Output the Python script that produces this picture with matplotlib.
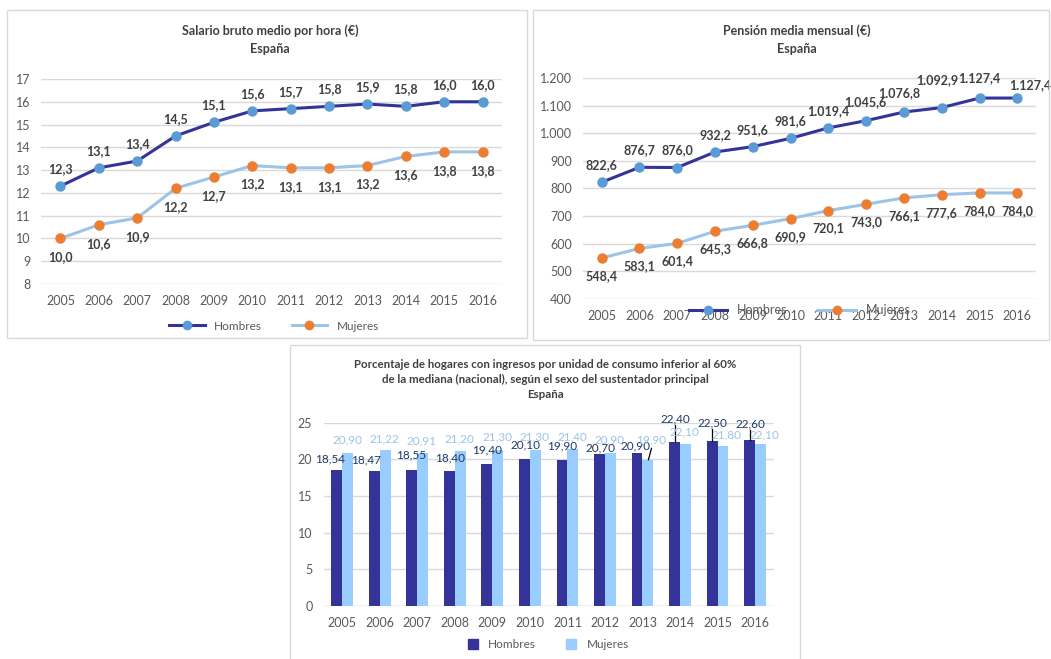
import matplotlib
matplotlib.use('Agg')
import matplotlib.pyplot as plt
from matplotlib.patches import Rectangle
from matplotlib.lines import Line2D
import numpy as np

plt.rcParams['font.family'] = ['Lato', 'DejaVu Sans']

# data
years = ['2005', '2006', '2007', '2008', '2009', '2010',
         '2011', '2012', '2013', '2014', '2015', '2016']
salario_h = [12.3, 13.1, 13.4, 14.5, 15.1, 15.6, 15.7, 15.8, 15.9, 15.8, 16.0, 16.0]
salario_m = [10.0, 10.6, 10.9, 12.2, 12.7, 13.2, 13.1, 13.1, 13.2, 13.6, 13.8, 13.8]
pension_h = [822.6, 876.7, 876.0, 932.2, 951.6, 981.6, 1019.4, 1045.6, 1076.8, 1092.9, 1127.4, 1127.4]
pension_m = [548.4, 583.1, 601.4, 645.3, 666.8, 690.9, 720.1, 743.0, 766.1, 777.6, 784.0, 784.0]
pobreza_h = [18.54, 18.47, 18.55, 18.40, 19.40, 20.10, 19.90, 20.70, 20.90, 22.40, 22.50, 22.60]
pobreza_m = [20.90, 21.22, 20.91, 21.20, 21.30, 21.30, 21.40, 20.90, 19.90, 22.10, 21.80, 22.10]

W, H = 1051, 659
H_LINE = '#333399'
H_MARK = '#5B9BD5'
M_LINE = '#9DC3E6'
M_MARK = '#ED7D31'
M_BAR = '#99CCFF'
GRID = '#D9D9D9'
TXT = '#595959'
LBL = '#404040'


def es(v, dec):
    # spanish number format: 1.127,4
    s = f'{v:,.{dec}f}'
    return s.replace(',', 'X').replace('.', ',').replace('X', '.')


def rect(px):
    # pixel box (left, top, right, bottom) -> figure fraction
    l, t, r, b = px
    return [l / W, 1 - b / H, (r - l) / W, (b - t) / H]


def style(ax, ylim, yticks, yfmt):
    ax.set_xlim(-0.5, len(years) - 0.5)
    ax.set_ylim(*ylim)
    ax.set_yticks(yticks)
    ax.set_yticklabels([yfmt(v) for v in yticks])
    ax.set_xticks(np.arange(len(years)))
    ax.set_xticklabels(years)
    ax.grid(axis='y', color=GRID, linewidth=1)
    ax.set_axisbelow(True)
    for s in ax.spines.values():
        s.set_visible(False)
    ax.tick_params(length=0, labelsize=9, colors=TXT)
    ax.tick_params(axis='y', pad=8)
    ax.tick_params(axis='x', pad=8)


fig = plt.figure(figsize=(W / 100, H / 100), dpi=100)

# panel borders
for l, t, r, b in [(7, 10, 527, 338), (533, 10, 1049, 340), (290, 345, 800, 662)]:
    fig.patches.append(Rectangle((l / W, 1 - b / H), (r - l) / W, (b - t) / H,
                                 transform=fig.transFigure, fill=False,
                                 edgecolor=GRID, linewidth=1))

x = np.arange(len(years))

# ---- Salario bruto medio por hora
ax1 = fig.add_axes(rect((41.3, 79, 501.7, 284)))
style(ax1, (8, 17), np.arange(8, 18), lambda v: f'{v:.0f}')
ax1.plot(x, salario_h, color=H_LINE, lw=2.2, marker='o', ms=6.5,
         mfc=H_MARK, mec=H_MARK, zorder=3)
ax1.plot(x, salario_m, color=M_LINE, lw=2.2, marker='o', ms=6.5,
         mfc=M_MARK, mec=M_MARK, zorder=3)
for i in range(len(years)):
    ax1.annotate(es(salario_h[i], 1), (x[i], salario_h[i]), xytext=(0, 17),
                 textcoords='offset pixels', ha='center', va='center',
                 fontsize=9, fontweight='bold', color=LBL)
    ax1.annotate(es(salario_m[i], 1), (x[i], salario_m[i]), xytext=(0, -19),
                 textcoords='offset pixels', ha='center', va='center',
                 fontsize=9, fontweight='bold', color=LBL)
fig.text(270 / W, 1 - 31 / H, 'Salario bruto medio por hora (€)', ha='center',
         va='center', fontsize=9, fontweight='bold', color=LBL)
fig.text(270 / W, 1 - 49 / H, 'España', ha='center', va='center',
         fontsize=9, fontweight='bold', color=LBL)

line_handles = [
    Line2D([], [], color=H_LINE, lw=2.2, marker='o', ms=6, mfc=H_MARK, mec=H_MARK),
    Line2D([], [], color=M_LINE, lw=2.2, marker='o', ms=6, mfc=M_MARK, mec=M_MARK),
]
fig.legend(line_handles, ['Hombres', 'Mujeres'], loc='center',
           bbox_to_anchor=(274 / W, 1 - 326 / H), ncol=2, frameon=False,
           fontsize=8.5, labelcolor=TXT, handlelength=3, columnspacing=2.5)

# ---- Pension media mensual
ax2 = fig.add_axes(rect((582.8, 78, 1036.2, 299)))
style(ax2, (400, 1200), np.arange(400, 1201, 100), lambda v: es(v, 0))
ax2.plot(x, pension_h, color=H_LINE, lw=2.2, marker='o', ms=6.5,
         mfc=H_MARK, mec=H_MARK, zorder=3)
ax2.plot(x, pension_m, color=M_LINE, lw=2.2, marker='o', ms=6.5,
         mfc=M_MARK, mec=M_MARK, zorder=3)
ph_off = [(0, 17), (0, 17), (0, 17), (0, 17), (0, 17), (0, 17),
          (0, 17), (-1, 19), (-5, 19), (-5, 28), (0, 20), (13, 13)]
for i in range(len(years)):
    ax2.annotate(es(pension_h[i], 1), (x[i], pension_h[i]), xytext=ph_off[i],
                 textcoords='offset pixels', ha='center', va='center',
                 fontsize=9, fontweight='bold', color=LBL)
    ax2.annotate(es(pension_m[i], 1), (x[i], pension_m[i]), xytext=(0, -18),
                 textcoords='offset pixels', ha='center', va='center',
                 fontsize=9, fontweight='bold', color=LBL)
fig.text(797 / W, 1 - 31 / H, 'Pensión media mensual (€)', ha='center',
         va='center', fontsize=9, fontweight='bold', color=LBL)
fig.text(797 / W, 1 - 49 / H, 'España', ha='center', va='center',
         fontsize=9, fontweight='bold', color=LBL)
fig.legend(line_handles, ['Hombres', 'Mujeres'], loc='center',
           bbox_to_anchor=(800 / W, 1 - 310 / H), ncol=2, frameon=False,
           fontsize=9, labelcolor=TXT, handlelength=3, columnspacing=2.5)

# ---- Porcentaje de hogares (barras)
ax3 = fig.add_axes(rect((323.5, 422.7, 773.8, 606)))
style(ax3, (0, 25), np.arange(0, 26, 5), lambda v: f'{v:.0f}')
ax3.axhline(0, color=GRID, lw=1)
bw = 0.29
ax3.bar(x - bw / 2, pobreza_h, bw, color=H_LINE, label='Hombres', zorder=2)
ax3.bar(x + bw / 2, pobreza_m, bw, color=M_BAR, label='Mujeres', zorder=2)

h_dx = [-0.33, -0.37, -0.16, -0.13, -0.14, -0.13, -0.14, -0.13, -0.19, -0.13, -0.13, -0.13]
h_dy = [1.5, 1.4, 2.0, 1.8, 1.9, 1.9, 2.0, 0.9, 0.9, 3.1, 2.5, 2.2]
m_dx = [0.14, 0.13, 0.12, 0.13, 0.13, 0.13, 0.14, 0.13, 0.24, 0.13, 0.24, 0.25]
m_dy = [1.7, 1.6, 1.6, 1.6, 1.7, 1.7, 1.6, 1.7, 2.8, 1.7, 1.6, 1.3]
for i in range(len(years)):
    ax3.text(x[i] + h_dx[i], pobreza_h[i] + h_dy[i], es(pobreza_h[i], 2),
             ha='center', va='center', fontsize=8.5, color='#1F3864', zorder=4)
    ax3.text(x[i] + m_dx[i], pobreza_m[i] + m_dy[i], es(pobreza_m[i], 2),
             ha='center', va='center', fontsize=8.5, color='#9DC3E6', zorder=4)
# leader lines
for i in [9, 10, 11]:
    ax3.plot([x[i] - 0.14, x[i] - 0.14], [pobreza_h[i], pobreza_h[i] + h_dy[i] - 0.8],
             color='black', lw=0.9, zorder=3)
ax3.plot([x[8] + 0.24, x[8] + 0.16], [pobreza_m[8] + 1.6, pobreza_m[8] + 0.05],
         color='black', lw=0.9, zorder=3)

for j, t in enumerate(['Porcentaje de hogares con ingresos por unidad de consumo inferior al 60%',
                       'de la mediana (nacional), según el sexo del sustentador principal',
                       'España']):
    fig.text(545 / W, 1 - (364 + 15.5 * j) / H, t, ha='center', va='center',
             fontsize=8.3, fontweight='bold', color=LBL)

bar_handles = [Line2D([], [], ls='none', marker='s', ms=7, mfc=H_LINE, mec=H_LINE),
               Line2D([], [], ls='none', marker='s', ms=7, mfc=M_BAR, mec=M_BAR)]
fig.legend(bar_handles, ['Hombres', 'Mujeres'], loc='center',
           bbox_to_anchor=(548 / W, 1 - 645 / H), ncol=2, frameon=False,
           fontsize=8.5, labelcolor=TXT, handlelength=1, columnspacing=2.5)

plt.savefig('out.png', dpi=100)
